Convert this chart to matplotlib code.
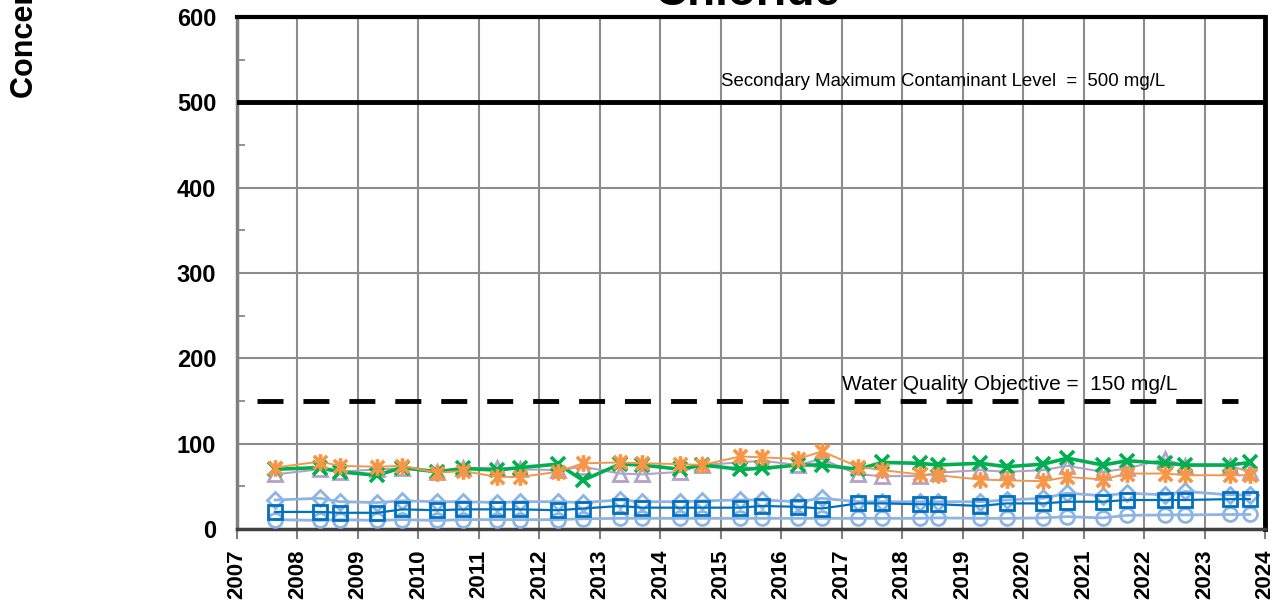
import matplotlib.pyplot as plt
from matplotlib.path import Path
from matplotlib.ticker import MultipleLocator

# === DATA ===
sample_dates = [2007.63, 2008.37, 2008.70, 2009.32, 2009.73, 2010.31, 2010.74, 2011.30, 2011.68,
                2012.31, 2012.72, 2013.33, 2013.70, 2014.33, 2014.69, 2015.32, 2015.68, 2016.28,
                2016.67, 2017.27, 2017.67, 2018.29, 2018.59, 2019.29, 2019.73, 2020.33, 2020.73,
                2021.32, 2021.72, 2022.35, 2022.68, 2023.42, 2023.75]

green_x = [70, 72, 67, 63, 72, 67, 71, 69, 72, 76, 57, 76, 75, 70, 75, 70, 71,
           75, 75, 70, 78, 77, 75, 77, 73, 76, 83, 75, 80, 77, 75, 75, 78]
orange_ast = [72, 79, 74, 73, 74, 66, 68, 61, 61, 67, 77, 78, 77, 76, 75, 85, 84,
              82, 91, 73, 69, 64, 63, 58, 57, 56, 61, 58, 65, 65, 63, 63, 63]
purple_tri = [64, 70, 67, 70, 71, 67, 71, 72, 70, 69, 73, 65, 64, 67, 75, 78, 80,
              75, 82, 64, 62, 62, 66, 69, 67, 69, 74, 67, 71, 82, 74, 74, 67]
ltblue_dia = [34, 36, 32, 31, 33, 32, 32, 31, 32, 32, 31, 34, 32, 32, 33, 34, 34,
              32, 36, 32, 32, 32, 32, 32, 34, 36, 42, 39, 42, 40, 44, 40, 40]
blue_sq = [20, 20, 19, 19, 23, 22, 23, 23, 23, 22, 24, 27, 25, 25, 25, 25, 27,
           26, 24, 30, 30, 29, 29, 27, 30, 30, 32, 32, 34, 34, 34, 35, 35]
ltblue_circ = [11, 10, 11, 10, 11, 10, 11, 11, 11, 11, 12, 12.5, 12.5, 12.5, 12.5, 12.5, 12.5,
               12.5, 12.5, 12.5, 12.5, 12.5, 13, 12.5, 12.5, 13, 14.5, 13, 16, 16.5, 16.5, 17, 17]

smcl = 500
wqo = 150
years = list(range(2007, 2025))

# Excel-style asterisk (x plus vertical bar)
asterisk = Path([(-1, -1), (1, 1), (-1, 1), (1, -1), (0, -1.25), (0, 1.25)],
                [Path.MOVETO, Path.LINETO, Path.MOVETO, Path.LINETO, Path.MOVETO, Path.LINETO])

plt.rcParams['font.family'] = ['Liberation Sans', 'DejaVu Sans']

fig = plt.figure(figsize=(12.84, 6.10), dpi=100)
ax = fig.add_axes([237 / 1284, 1 - 529 / 610, 1028 / 1284, 512 / 610])

# === SERIES ===
ax.plot(sample_dates, ltblue_circ, color="#8EB4E3", lw=2, marker="o", ms=10,
        mfc="none", mew=2, zorder=3)
ax.plot(sample_dates, ltblue_dia, color="#8EB4E3", lw=2, marker="D", ms=8,
        mfc="none", mew=2, zorder=3)
ax.plot(sample_dates, blue_sq, color="#0070C0", lw=1.6, marker="s", ms=10,
        mfc="none", mew=2, zorder=4)
ax.plot(sample_dates, purple_tri, color="#B3A2C7", lw=1.5, marker="^", ms=10,
        mfc="none", mew=2, zorder=4)
ax.plot(sample_dates, green_x, color="#00B050", lw=2.6, marker="x", ms=10,
        mew=2.6, zorder=5)
ax.plot(sample_dates, orange_ast, color="#F79646", lw=1.4, marker=asterisk, ms=12,
        mew=2.6, zorder=6)

# === REFERENCE LINES ===
ax.axhline(smcl, color="black", lw=3.5, zorder=7)
ax.hlines(wqo, 2007.33, 2023.55, color="black", lw=3.5, linestyles=(0, (5.35, 4.1)), zorder=7)
ax.text(2015.0, 524, "Secondary Maximum Contaminant Level  =  500 mg/L",
        fontsize=13.4, va="center", ha="left", zorder=8)
ax.text(2017.0, 169, "Water Quality Objective =  150 mg/L",
        fontsize=15, va="center", ha="left", zorder=8)

# === AXES ===
ax.set_xlim(2007, 2024)
ax.set_ylim(0, 600)
ax.set_xticks(years)
ax.set_xticklabels([str(y) for y in years], rotation=90, fontsize=16, fontweight="bold")
ax.yaxis.set_major_locator(MultipleLocator(100))
ax.yaxis.set_minor_locator(MultipleLocator(50))
for lab in ax.get_yticklabels():
    lab.set_fontsize(17)
    lab.set_fontweight("bold")
ax.tick_params(axis="x", direction="out", length=7, width=1.5, color="#808080", pad=8)
ax.tick_params(axis="y", which="major", length=0, pad=15)
ax.tick_params(axis="y", which="minor", direction="in", length=6, width=1.2, color="#808080")
ax.grid(True, which="major", color="#8c8c8c", lw=1.5)
ax.set_axisbelow(True)

ax.spines["top"].set_color("black")
ax.spines["top"].set_linewidth(3)
ax.spines["right"].set_color("black")
ax.spines["right"].set_linewidth(3.5)
ax.spines["bottom"].set_color("#404040")
ax.spines["bottom"].set_linewidth(2.5)
ax.spines["left"].set_color("#808080")
ax.spines["left"].set_linewidth(2.5)

# title and y label are cut off by the figure edge in the reference
fig.text(747 / 1284, 1 - 5 / 610, "Chloride", fontsize=33, fontweight="bold",
         ha="center", va="baseline")
fig.text(25 / 1284, 1 - 98 / 610, "Concentration (mg/L)", fontsize=22, fontweight="bold",
         rotation=90, ha="center", va="bottom")

fig.savefig("out.png", dpi=100)
